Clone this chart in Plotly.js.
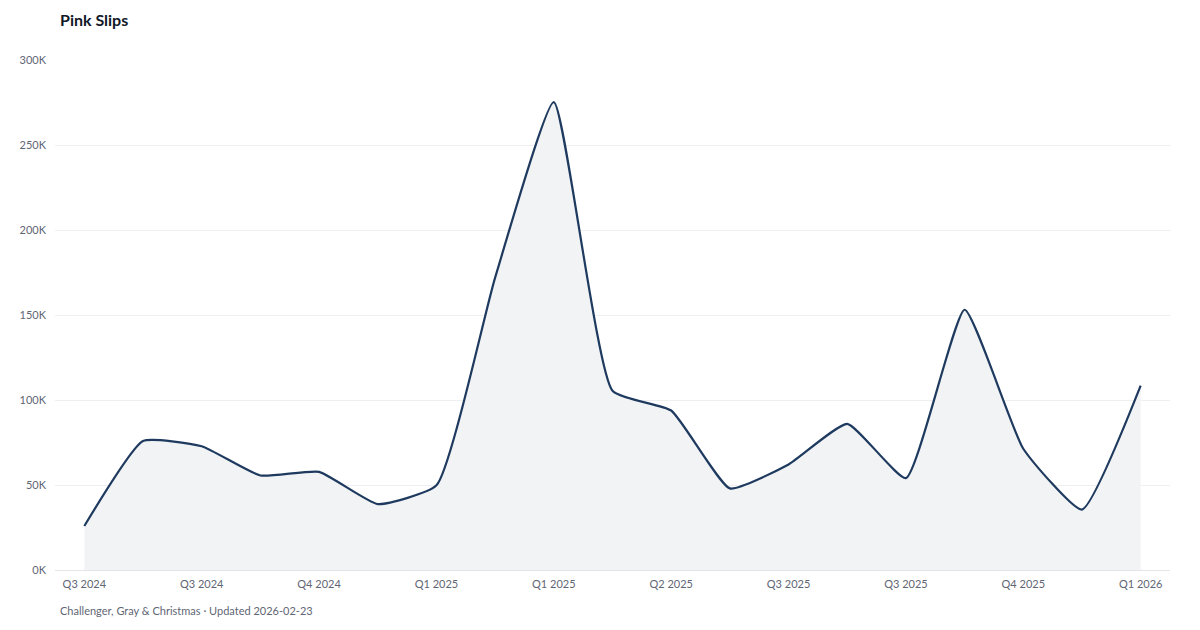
<!DOCTYPE html>
<html>
<head>
<meta charset="utf-8">
<script src="https://cdn.plot.ly/plotly-3.0.1.min.js"></script>
<style>
  html, body { margin: 0; padding: 0; background: #ffffff; }
  #chart { width: 1200px; height: 630px; }
</style>
</head>
<body>
<div id="chart"></div>
<script>
// Monthly layoffs, Jul 2024 – Jan 2026
const months = ["2024-07","2024-08","2024-09","2024-10","2024-11","2024-12",
  "2025-01","2025-02","2025-03","2025-04","2025-05","2025-06",
  "2025-07","2025-08","2025-09","2025-10","2025-11","2025-12","2026-01"];
const pinkSlips = [25885, 75891, 72821, 55597, 57727, 38792,
  49795, 172017, 275240, 105441, 93816, 47999,
  62075, 85979, 54064, 153074, 71321, 35553, 108435];
const tickIndex = [0, 2, 4, 6, 8, 10, 12, 14, 16, 18];
const tickLabels = ["Q3 2024","Q3 2024","Q4 2024","Q1 2025","Q1 2025",
  "Q2 2025","Q3 2025","Q3 2025","Q4 2025","Q1 2026"];
const yTicks = [0, 50000, 100000, 150000, 200000, 250000, 300000];
const yTickLabels = ["0K","50K","100K","150K","200K","250K","300K"];

const xIdx = months.map((m, i) => i);
const FONT = "Lato, 'Open Sans', sans-serif";

const trace = {
  x: xIdx,
  y: pinkSlips,
  type: "scatter",
  mode: "lines",
  line: { color: "#1f3a5f", width: 2.2, shape: "spline", smoothing: 0.45 },
  fill: "tozeroy",
  fillcolor: "rgba(241,243,245,1)",
  hoverinfo: "y"
};

const layout = {
  width: 1200,
  height: 630,
  paper_bgcolor: "#ffffff",
  plot_bgcolor: "#ffffff",
  margin: { l: 55, r: 30, t: 60, b: 60 },
  showlegend: false,
  font: { family: FONT, color: "#6b7280", size: 11 },
  title: {
    text: "<b>Pink Slips</b>",
    xref: "container", yref: "container",
    x: 60 / 1200, xanchor: "left",
    y: 1 - 20 / 630, yanchor: "middle",
    font: { family: FONT, size: 16, color: "#111827" }
  },
  xaxis: {
    range: [-0.5, 18.5],
    tickmode: "array",
    tickvals: tickIndex,
    ticktext: tickLabels,
    showgrid: false,
    zeroline: false,
    showline: false,
    ticks: "",
    ticklabelstandoff: 6,
    tickfont: { family: FONT, size: 11, color: "#5f6675" },
    fixedrange: true
  },
  yaxis: {
    range: [0, 300000],
    tickmode: "array",
    tickvals: yTicks,
    ticktext: yTickLabels,
    showgrid: true,
    gridcolor: "#eeeff1",
    gridwidth: 1,
    zeroline: true,
    zerolinecolor: "#e2e4e8",
    zerolinewidth: 1,
    showline: false,
    ticks: "",
    ticklabelstandoff: 8,
    tickfont: { family: FONT, size: 11, color: "#5f6675" },
    fixedrange: true
  },
  annotations: [{
    text: "Challenger, Gray & Christmas · Updated 2026-02-23",
    xref: "paper", yref: "paper",
    x: 0, y: 0,
    xshift: 3, yshift: -40,
    xanchor: "left", yanchor: "middle",
    showarrow: false,
    font: { family: FONT, size: 11, color: "#5f6675" }
  }]
};

Plotly.newPlot("chart", [trace], layout, { displayModeBar: false, staticPlot: true });
</script>
</body>
</html>
